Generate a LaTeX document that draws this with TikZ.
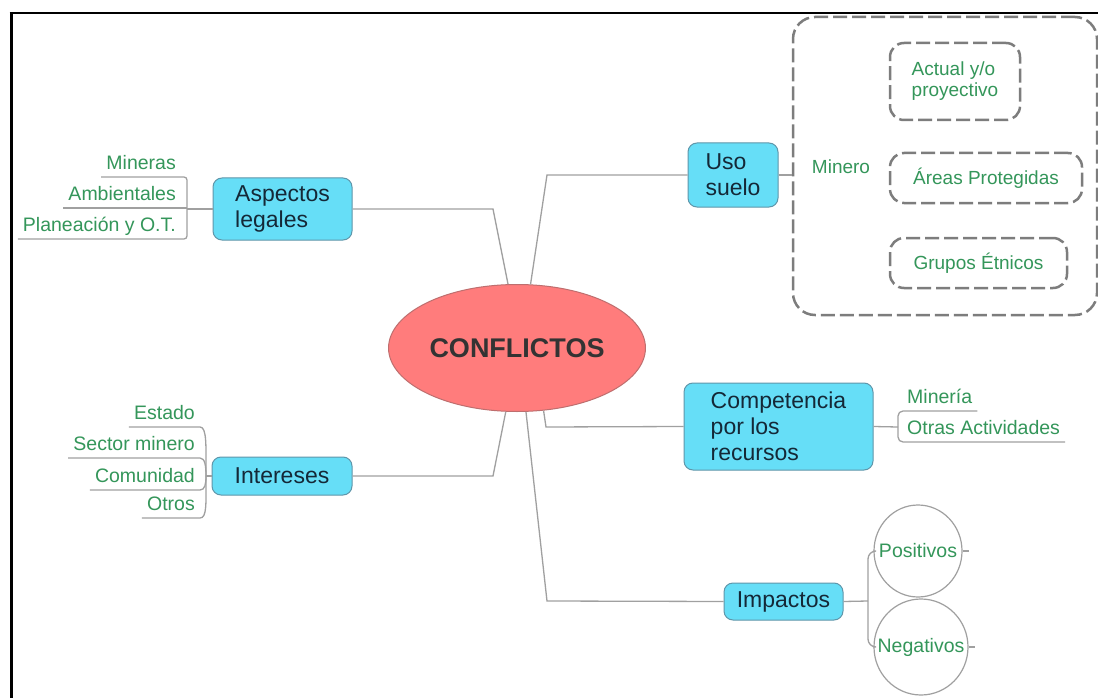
\documentclass[tikz,border=0pt]{standalone}
\usepackage{fontspec}
\setmainfont{Liberation Sans}
\usetikzlibrary{positioning,shapes.geometric}
\definecolor{topicfill}{RGB}{102,222,247}
\definecolor{topicdraw}{RGB}{95,150,170}
\definecolor{topictext}{RGB}{20,40,55}
\definecolor{leafgreen}{RGB}{52,150,90}
\definecolor{linkgray}{RGB}{160,160,160}
\definecolor{dashgray}{RGB}{125,125,125}
\definecolor{corefill}{RGB}{255,124,124}
\definecolor{coredraw}{RGB}{190,110,110}

\begin{document}
\begin{tikzpicture}[x=1pt,y=-1pt,
    topic/.style={draw=topicdraw,fill=topicfill,rounded corners=9pt,line width=1pt,text=topictext,font=\fontsize{23}{26}\selectfont,align=left,inner sep=0pt},
    leaf/.style={text=leafgreen,font=\fontsize{19.5}{21}\selectfont,inner xsep=5pt,inner ysep=3pt,text height=14pt,text depth=4pt},
    link/.style={draw=linkgray,line width=1.3pt},
    dbox/.style={draw=dashgray,line width=2.5pt,dash pattern=on 14pt off 5pt,rounded corners=14pt,text=leafgreen,font=\fontsize{19}{21}\selectfont,align=left,inner sep=0pt},
    bubble/.style={ellipse,draw=linkgray,line width=1.2pt,inner sep=0pt,text=leafgreen,font=\fontsize{19.5}{21}\selectfont}]
    \fill[white] (0,0) rectangle (1098,698);
    \useasboundingbox (0,0) rectangle (1098,698);
    \draw[line width=3pt] (11,698) -- (11,13);
    \draw[line width=2pt] (9.5,13) -- (1098,13);

    % centre and main topics
    \node[ellipse,fill=corefill,draw=coredraw,line width=1pt,minimum width=248pt,minimum height=127pt,
      font=\fontsize{27}{30}\selectfont\bfseries,text=black!80] (core) at (517,348) {CONFLICTOS};
    \node[topic,minimum width=90pt,minimum height=64pt] (uso) at (733,175) {Uso\\suelo};
    \node[topic,minimum width=139pt,minimum height=62pt] (legal) at (282.5,209) {Aspectos\\legales};
    \node[topic,minimum width=140pt,minimum height=38pt] (inter) at (282,476) {Intereses};
    \node[topic,minimum width=189pt,minimum height=87pt] (comp) at (778.5,426.5) {Competencia\\por los\\recursos};
    \node[topic,minimum width=119pt,minimum height=37pt] (imp) at (783.5,601.5) {Impactos};

    \coordinate (usoBend) at (547,175);
    \coordinate (legBend) at (493,209);
    \coordinate (intBend) at (493,476);
    \coordinate (compBend) at (546,427);
    \coordinate (impBend) at (547,601);
    \draw[link] (core.78) -- (usoBend) -- (uso.west);
    \draw[link] (core.98) -- (legBend) -- (legal.east);
    \draw[link] (core.-100) -- (intBend) -- (inter.east);
    \draw[link] (core.-67) -- (compBend) -- (comp.west);
    \draw[link] (core.-82) -- (impBend) -- (imp.west);

    % uso suelo
    \node[dbox,rounded corners=22pt,minimum width=304pt,minimum height=298pt] (grp) at (945,166) {};
    \node[text=leafgreen,font=\fontsize{19}{21}\selectfont] (minero) at (841,167) {Minero};
    \node[dbox,minimum width=130pt,minimum height=77pt] (act) at (955,81.5) {Actual y/o\\proyectivo};
    \node[dbox,minimum width=192pt,minimum height=50pt] (areas) at (986,178) {Áreas Protegidas};
    \node[dbox,minimum width=177pt,minimum height=50pt] (etnic) at (978.5,263) {Grupos Étnicos};
    \draw[link] (uso.east) -- (uso.east -| grp.west);

    % aspectos legales
    \coordinate (legJ) at (187,209);
    \node[leaf,anchor=south east] (mineras) at (181,177) {Mineras};
    \node[leaf,anchor=south east] (ambient) at (181,208) {Ambientales};
    \node[leaf,anchor=south east] (planea) at (181,239) {Planeación y O.T.};
    \draw[link,rounded corners=3pt] (mineras.south west) -- (legJ |- mineras.south) -- (legJ |- planea.south) -- (planea.south west);
    \draw[link] (ambient.south west) -- (legJ |- ambient.south);
    \draw[link] (legal.west) -- (legJ);

    % intereses
    \coordinate (intJ) at (206,476);
    \node[leaf,anchor=south east] (estado) at (200,427) {Estado};
    \node[leaf,anchor=south east] (sector) at (200,458) {Sector minero};
    \node[leaf,anchor=south east] (comun) at (200,490) {Comunidad};
    \node[leaf,anchor=south east] (otros) at (200,518) {Otros};
    \draw[link] (estado.south west) -- (estado.south east) .. controls +(7,0) and +(0,-30) .. (intJ);
    \draw[link] (sector.south west) -- (sector.south east) .. controls +(5,0) and +(0,-10) .. (intJ);
    \draw[link] (comun.south west) -- (comun.south east) .. controls +(5,0) and +(0,8) .. (intJ);
    \draw[link] (otros.south west) -- (otros.south east) .. controls +(7,0) and +(0,28) .. (intJ);
    \draw[link] (inter.west) -- (intJ);

    % competencia
    \coordinate (compJ) at (898,427);
    \node[leaf,anchor=south west] (mineria) at (902,411) {Minería};
    \node[leaf,anchor=south west] (otras) at (902,442) {Otras Actividades};
    \draw[link] (comp.east) -- (compJ);
    \draw[link,rounded corners=5pt] (mineria.south east) -- (compJ |- mineria.south) -- (compJ |- otras.south) -- (otras.south east);

    % impactos
    \coordinate (impJ) at (868,601);
    \node[bubble,minimum width=88pt,minimum height=92pt] (pos) at (918,551) {\makebox[0pt]{Positivos}};
    \node[bubble,minimum width=94pt,minimum height=96pt] (neg) at (921,647) {\makebox[0pt]{Negativos}};
    \draw[link] (imp.east) -- (impJ);
    \draw[link,rounded corners=8pt] (pos.west) -- (impJ |- pos.west) -- (impJ |- neg.west) -- (neg.west);
    \draw[link] (pos.east) -- ++(6,0);
    \draw[link] (neg.east) -- ++(6,0);
\end{tikzpicture}
\end{document}
